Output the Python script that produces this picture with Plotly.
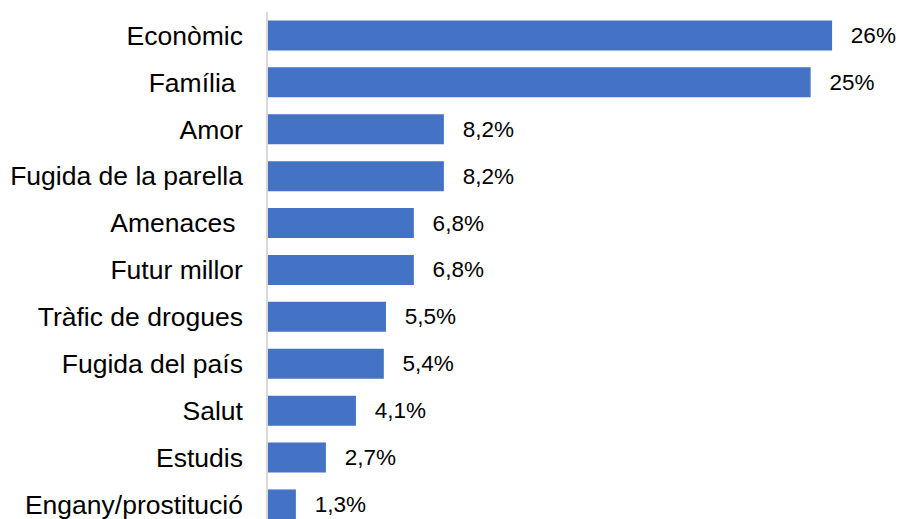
import plotly.graph_objects as go

categories = ["Econòmic", "Família\u00a0", "Amor", "Fugida de la parella", "Amenaces\u00a0",
              "Futur millor", "Tràfic de drogues", "Fugida del país", "Salut", "Estudis",
              "Engany/prostitució"]
values = [26.3, 25.3, 8.2, 8.2, 6.8, 6.8, 5.5, 5.4, 4.1, 2.7, 1.3]
value_labels = ["26%", "25%", "8,2%", "8,2%", "6,8%", "6,8%", "5,5%", "5,4%", "4,1%", "2,7%", "1,3%"]

fig = go.Figure(go.Bar(
    x=values,
    y=categories,
    orientation="h",
    marker=dict(color="#4472C4", line=dict(width=0)),
    text=["\u2002\u2009" + t for t in value_labels],
    textposition="outside",
    constraintext="none",
    textfont=dict(family="Liberation Sans, Arial, sans-serif", size=22.5, color="#000000"),
    cliponaxis=False,
    hoverinfo="skip",
))

fig.update_layout(
    width=900, height=519,
    margin=dict(l=268, r=10, t=12, b=0),
    paper_bgcolor="white", plot_bgcolor="white",
    bargap=0.36,
    showlegend=False,
    font=dict(family="Liberation Sans, Arial, sans-serif", color="#000000"),
)
fig.update_xaxes(range=[0, 29], visible=False, showgrid=False, zeroline=False, automargin=False)
fig.update_yaxes(
    type="category",
    range=[10.31, -0.5],
    automargin=False,
    showline=True, linecolor="#D9D9D9", linewidth=1.5,
    showgrid=False, zeroline=False, ticks="",
    tickfont=dict(family="Liberation Sans, Arial, sans-serif", size=26.5, color="#000000"),
    ticklabelstandoff=18,
)

fig.write_html(
    "out.html",
    config={"displayModeBar": False},
    post_script="document.body.style.margin='0';document.body.style.overflow='hidden';",
)
